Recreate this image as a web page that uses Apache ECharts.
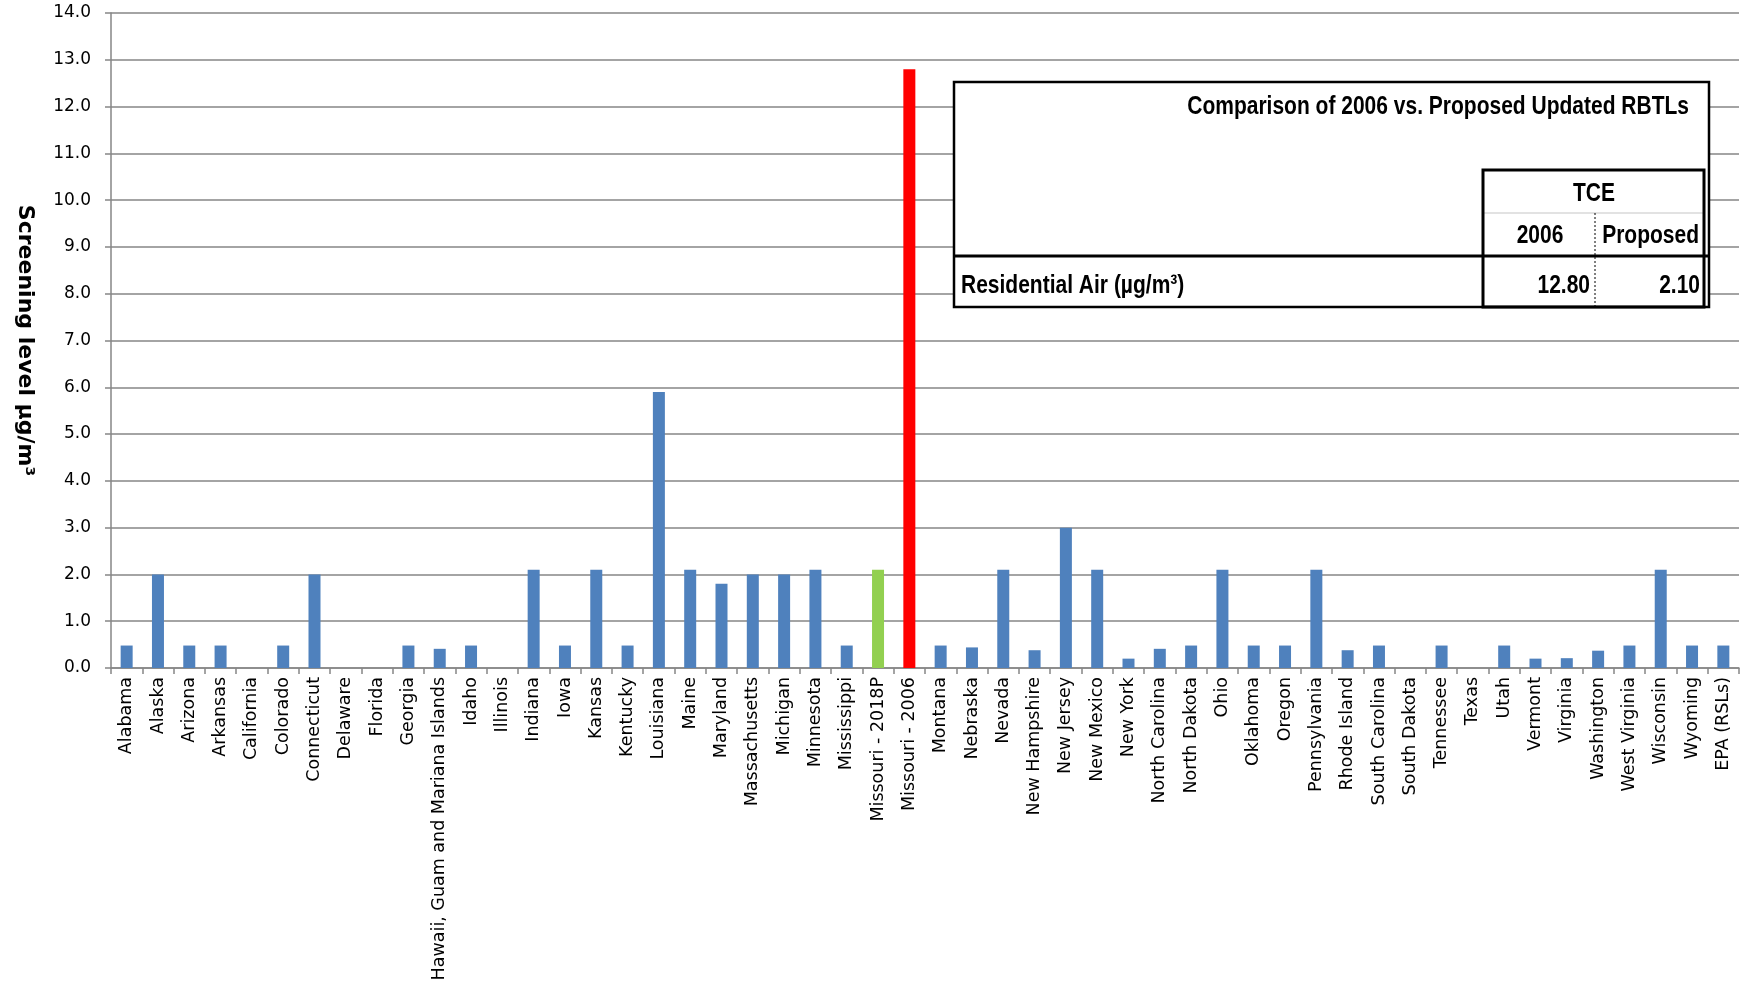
<!DOCTYPE html>
<html>
<head>
<meta charset="utf-8">
<script src="https://cdn.jsdelivr.net/npm/echarts@6/dist/echarts.min.js"></script>
<style>
html, body { margin: 0; padding: 0; background: #fff; }
#chartDom { width: 1752px; height: 985px; }
</style>
</head>
<body>
<div id="chartDom"></div>
<script>
// 州名（横轴）
const states = [
  "Alabama", "Alaska", "Arizona", "Arkansas", "California", "Colorado", "Connecticut",
  "Delaware", "Florida", "Georgia", "Hawaii, Guam and Mariana Islands", "Idaho", "Illinois",
  "Indiana", "Iowa", "Kansas", "Kentucky", "Louisiana", "Maine", "Maryland", "Massachusetts",
  "Michigan", "Minnesota", "Mississippi", "Missouri - 2018P", "Missouri - 2006", "Montana",
  "Nebraska", "Nevada", "New Hampshire", "New Jersey", "New Mexico", "New York",
  "North Carolina", "North Dakota", "Ohio", "Oklahoma", "Oregon", "Pennsylvania",
  "Rhode Island", "South Carolina", "South Dakota", "Tennessee", "Texas", "Utah", "Vermont",
  "Virginia", "Washington", "West Virginia", "Wisconsin", "Wyoming", "EPA (RSLs)"
];
// screening level µg/m3
const levels = [
  0.48, 2.0, 0.48, 0.48, 0, 0.48, 2.0,
  0, 0, 0.48, 0.41, 0.48, 0,
  2.1, 0.48, 2.1, 0.48, 5.9, 2.1, 1.8, 2.0,
  2.0, 2.1, 0.48, 2.1, 12.8, 0.48,
  0.44, 2.1, 0.38, 3.0, 2.1, 0.2,
  0.41, 0.48, 2.1, 0.48, 0.48, 2.1,
  0.38, 0.48, 0, 0.48, 0, 0.48, 0.2,
  0.21, 0.37, 0.48, 2.1, 0.48, 0.48
];
const yMin = 0;
const yMax = 14;
const yStep = 1;

// 右上角的对比表
const tableTitle = "Comparison of 2006 vs. Proposed Updated RBTLs";
const tableGroup = "TCE";
const tableCols = ["2006", "Proposed"];
const tableRow = "Residential Air (µg/m³)";
const tableValues = ["12.80", "2.10"];

const gray = "#868686";
const txtFont = "'Liberation Sans', Arial, sans-serif";

function barColor(name) {
  if (name === "Missouri - 2006") return "#ff0000";
  if (name === "Missouri - 2018P") return "#92d050";
  return "#4f81bd";
}

function cellText(x, y, text, align) {
  return {
    type: "text", x: x, y: y, scaleX: 0.84, z: 102,
    style: {
      text: text, x: 0, y: 0, align: align, verticalAlign: "middle",
      font: "bold 25px " + txtFont, fill: "#000"
    }
  };
}

let myChart = echarts.init(document.getElementById("chartDom"));
myChart.setOption({
  animation: false,
  backgroundColor: "#fff",
  grid: { left: 111, right: 13, top: 13, bottom: 317 },
  xAxis: {
    type: "category",
    data: states,
    axisLine: { lineStyle: { color: gray, width: 1.5 } },
    axisTick: { show: true, length: 6, lineStyle: { color: gray, width: 1.5 } },
    axisLabel: {
      interval: 0, rotate: 90, margin: 9,
      fontFamily: "'DejaVu Sans', Verdana, sans-serif", fontSize: 17.5, color: "#000"
    }
  },
  yAxis: {
    type: "value",
    min: yMin, max: yMax, interval: yStep,
    name: "Screening level µg/m³",
    nameLocation: "middle",
    nameRotate: -90,
    nameGap: 75,
    nameTextStyle: {
      fontFamily: "'DejaVu Sans', sans-serif", fontWeight: "bold", fontSize: 22, color: "#000"
    },
    axisLine: { show: true, lineStyle: { color: gray, width: 1.5 } },
    axisTick: { show: true, length: 6, lineStyle: { color: gray, width: 1.5 } },
    splitLine: { lineStyle: { color: gray, width: 1.5 } },
    axisLabel: {
      margin: 20,
      fontFamily: "'DejaVu Sans', Verdana, sans-serif", fontSize: 17, color: "#000",
      formatter: v => v.toFixed(1)
    }
  },
  series: [{
    type: "bar",
    barWidth: 12,
    data: states.map((s, i) => ({ value: levels[i], itemStyle: { color: barColor(s) } }))
  }],
  graphic: [{
    type: "group",
    children: [
      { type: "rect", z: 100, shape: { x: 954, y: 82, width: 755, height: 225 },
        style: { fill: "#fff", stroke: "#000", lineWidth: 2.5 } },
      { type: "line", z: 101, shape: { x1: 1483, y1: 213, x2: 1704, y2: 213 },
        style: { stroke: "#d9d9d9", lineWidth: 1.5 } },
      { type: "line", z: 101, shape: { x1: 1595, y1: 213, x2: 1595, y2: 307 },
        style: { stroke: "#000", lineWidth: 1, lineDash: [2, 2] } },
      { type: "rect", z: 101, shape: { x: 1483, y: 170, width: 221, height: 137 },
        style: { fill: null, stroke: "#000", lineWidth: 3 } },
      { type: "line", z: 101, shape: { x1: 954, y1: 256, x2: 1709, y2: 256 },
        style: { stroke: "#000", lineWidth: 3 } },
      cellText(1689, 107, tableTitle, "right"),
      cellText(1594, 194, tableGroup, "center"),
      cellText(1540, 236, tableCols[0], "center"),
      cellText(1699, 236, tableCols[1], "right"),
      cellText(961, 286, tableRow, "left"),
      cellText(1590, 286, tableValues[0], "right"),
      cellText(1700, 286, tableValues[1], "right")
    ]
  }]
});
</script>
</body>
</html>
